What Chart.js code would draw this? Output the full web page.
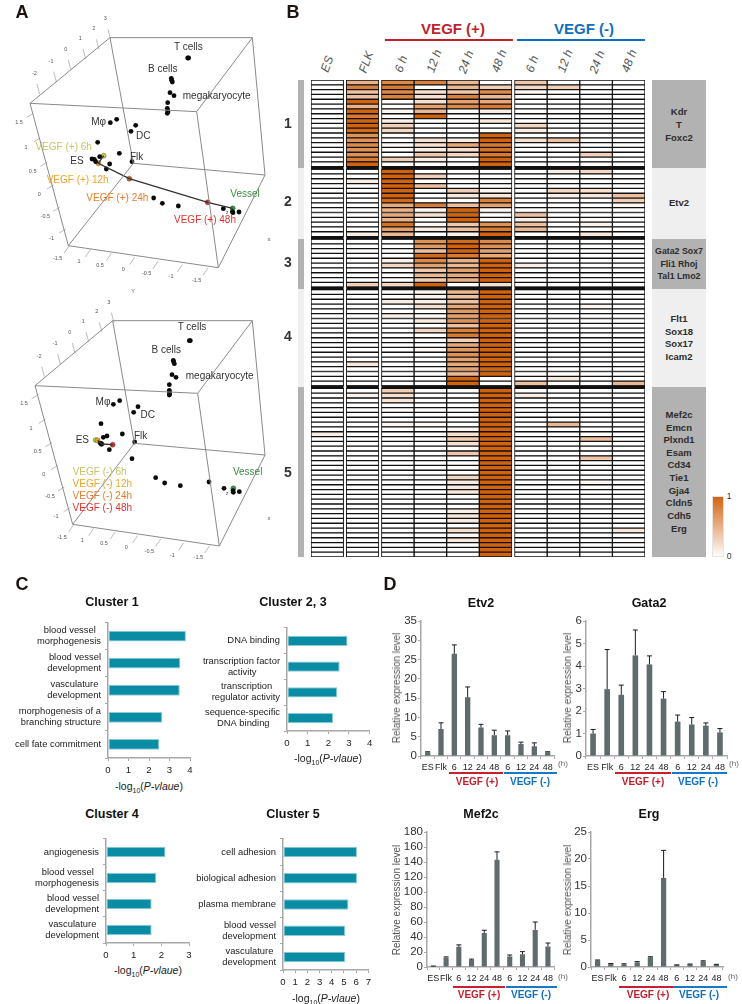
<!DOCTYPE html>
<html><head><meta charset="utf-8">
<script src="https://cdn.jsdelivr.net/npm/chart.js@4"></script>
<style>
html,body{margin:0;padding:0;background:#fff;width:742px;height:1004px;overflow:hidden;font-family:"Liberation Sans",Arial,sans-serif}
#page{position:relative;width:742px;height:1004px;overflow:hidden}
canvas{position:absolute;display:block}
.t{position:absolute;white-space:nowrap;line-height:1;transform-origin:center}
.r{position:absolute}
</style></head><body><div id="page"></div>
<script>
/* ---------- Panel A: projected 3D coordinates of the PCA cube ---------- */
const cubeEdgesPlus=[[90,310,330,113],[330,113,757,113],[757,113,590,335],[90,310,590,335],[90,310,205,737],[205,737,655,803],[590,335,655,803],[655,803,795,525],[757,113,795,525],[330,113,400,490],[400,490,795,525],[400,490,205,737]];
const cubeEdgesMinus=[[105,317,338,122],[338,122,757,122],[757,122,593,340],[105,317,593,340],[105,317,218,733],[218,733,658,798],[593,340,658,798],[658,798,795,525],[757,122,795,525],[338,122,403,490],[403,490,795,525],[403,490,218,733]];
const blackPlusX=[563,566,514,515,517,510,522,503,502,503,502,504,331,350,407,393,293,276,283,287,299,358,329,319,396,461,487,535,670,697,699,717];
const blackPlusY=[174,174,235,241,246,278,287,308,325,332,340,336,368,358,376,394,427,477,478,485,470,460,492,507,485,594,610,618,626,635,638,636];
const blackMinusX=[568,571,520,521,523,516,528,508,508,508,509,508,340,359,414,401,303,310,321,367,404,301,304,328,396,467,494,541,627,672,699,700,718];
const blackMinusY=[182,182,241,246,251,284,292,314,331,336,342,345,373,362,380,397,431,472,468,462,486,490,492,509,536,593,609,617,606,625,632,637,635];
const timePlusX=[311,295,388,623,698];
const timePlusY=[467,490,536,607,625];
const timeMinusX=[287,293,305,338,700];
const timeMinusY=[480,481,492,494,625];
const timeColors=['#c9c93c','#eea21f','#cf5f28','#cf2f2f','#2a9c3c'];
const zTicksPlus=[['3',316,58],['2',281,88],['1',241,117],['0',197,150],['-1',153,185],['-2',103,222]];
const xTicksPlus=[['1.5',57,369],['1',78,443],['0.5',98,516],['0',118,584],['-0.5',136,651],['-1',155,716]];
const yTicksPlus=[['-1.5',173,776],['1',237,787],['0.5',300,798],['0',370,810],['-0.5',440,822],['-1',513,832],['-1.5',590,842]];
const zTicksMinus=[['3',326,68],['2',290,97],['1',250,126],['0',209,159],['-1',165,192],['-2',117,230]];
const xTicksMinus=[['1.5',72,373],['1',93,447],['0.5',113,517],['0',131,585],['-0.5',150,650],['-1',168,712]];
const yTicksMinus=[['-1.5',186,773],['1',247,783],['0.5',312,793],['0',379,805],['-0.5',448,815],['-1',517,827],['-1.5',595,835]];

/* ---------- Panel B: heatmap columns (rows grouped by cluster 1..5) ---------- */
const clusterSizes=[18,14,10,20,35];
const heatES=[0,0,0,0,0,0,0,0,0,0,0,0,0,0,0,0,0,0,
 0,0,0,0,0,0,0,0,0,0,0,0,0,0,
 0,0,0,0,0,0,0,0,0,0,
 0,0,0,0,0,0,0,0,0,0,0,0,0,0,0,0,0,0,0,0,
 0,0,0,0,0,0,0,0,0,.1,0,0,0,0,0,0,0,0,0,0,0,0,0,0,0,0,0,0,0,0,0,0,0,0,0];
const heatFLK=[.5,.8,.4,.4,1,.5,1,.85,1,1,.95,.7,.7,.75,.7,.7,.85,1,
 0,0,.1,0,0,0,0,0,0,0,0,0,0,.1,
 0,0,0,0,0,0,0,0,0,.3,
 0,0,0,0,0,0,0,0,0,0,0,0,0,0,0,.15,0,0,0,0,
 0,.08,0,0,0,0,0,0,0,0,0,0,0,0,0,0,0,0,0,0,0,0,0,0,0,0,0,0,0,0,0,0,0,0,0];
const heatP6=[.75,.85,.75,.8,0,0,.05,0,.1,.3,.25,0,0,.05,0,0,.3,0,
 1,1,1,1,1,1,.95,.55,.5,.55,.5,.9,.6,.45,
 0,0,0,0,.08,.25,0,0,0,.25,
 0,0,.12,0,0,.1,0,0,0,0,0,0,0,0,0,0,0,0,0,0,
 .3,.2,.15,0,0,0,0,.05,0,0,0,0,0,0,0,0,0,0,0,0,0,0,0,0,0,0,0,0,0,0,0,0,0,0,0];
const heatP12=[.8,0,.2,.2,.2,.6,.45,1,0,0,0,0,.2,.2,.1,.35,.1,0,
 0,.3,0,.4,0,0,0,.85,.05,.2,0,.05,.1,0,
 .7,.65,.4,.95,.75,.6,.35,.45,.3,1,
 .07,.07,.1,.2,0,.05,.12,0,.25,0,0,0,.04,0,0,0,0,0,0,0,
 0,0,0,0,0,0,0,.03,0,0,0,0,0,0,0,0,0,0,0,0,0,0,0,0,0,0,0,0,0,0,0,0,0,0,0];
const heatP24=[.45,.45,.35,.8,.6,.75,0,0,0,0,0,0,.1,.55,.2,.25,0,0,
 0,0,0,0,.3,.15,0,.4,1,1,1,.35,.4,.1,
 .95,1,1,.85,.5,.45,.6,.55,.5,0,
 .45,.4,.4,.55,.65,.6,.7,.4,.8,.85,.3,.55,.65,.7,.6,.55,.6,.45,1,1,
 0,0,0,0,0,0,0,0,.05,.2,.3,.2,0,.35,0,0,0,0,.25,.12,.12,.15,0,0,0,.1,.15,.12,0,.2,.05,.15,0,0,0];
const heatP48=[0,.3,.75,.45,.55,.85,.1,0,.15,0,0,1,1,.85,.9,.85,1,1,
 0,0,0,0,.05,.15,.8,.6,.05,0,0,.7,.85,1,
 .75,.7,.6,.55,1,1,1,1,1,.2,
 1,1,1,1,1,1,1,1,1,1,1,1,1,1,1,1,1,1,0,0,
 1,1,1,1,1,1,1,1,1,1,1,1,1,1,1,1,1,1,1,1,1,1,1,1,1,1,1,1,1,1,1,1,1,1,1];
const heatM6=[.35,.25,.05,0,0,0,0,0,0,.25,.1,0,.2,0,0,0,0,0,
 0,0,0,0,0,0,0,0,0,.4,.1,.4,.45,0,
 0,0,0,0,0,.1,0,0,0,0,
 0,0,0,0,0,0,0,0,0,0,0,0,0,0,0,0,0,0,0,.4,
 0,.1,0,0,0,0,0,0,0,0,0,0,0,0,0,0,0,0,0,0,0,0,0,0,0,0,0,0,0,0,0,0,0,0,0];
const heatM12=[0,.3,0,0,0,0,0,0,0,0,0,0,.4,0,0,0,0,0,
 .1,0,0,0,.25,.1,0,0,0,0,0,0,0,0,
 0,0,0,0,0,0,0,0,0,0,
 0,0,0,0,0,0,0,0,0,0,0,0,0,0,0,0,0,0,.15,0,
 0,0,0,0,0,0,0,.45,0,0,0,0,0,0,0,0,0,0,0,0,0,0,0,0,0,0,0,0,0,0,0,0,0,0,0];
const heatM24=[0,0,0,0,0,0,0,0,0,0,0,0,0,0,0,.3,0,0,
 .25,0,0,0,.2,.15,0,0,0,0,0,.08,0,.15,
 0,0,0,0,0,0,0,0,0,0,
 0,0,0,.05,0,0,0,0,0,0,0,0,0,0,0,0,0,0,0,0,
 0,0,0,0,0,0,0,0,0,0,.4,0,0,0,.35,0,0,0,0,.05,0,0,0,0,0,0,0,0,0,0,0,0,0,0,0];
const heatM48=[0,0,0,0,0,0,0,0,0,0,0,0,0,0,0,0,0,0,
 0,0,0,0,0,.4,.3,.05,0,0,0,0,0,0,
 0,0,0,0,0,0,0,0,0,0,
 0,0,0,0,0,0,0,0,0,0,0,0,0,0,0,0,0,0,0,.45,
 0,0,0,0,0,0,0,0,0,0,0,0,0,0,0,0,0,0,0,0,0,0,0,0,0,0,0,0,0,.15,0,0,0,0,0];
const heatColumnGroups=[[heatES],[heatFLK],[heatP6,heatP12,heatP24,heatP48],[heatM6,heatM12,heatM24,heatM48]];
const heatColumnLabels=['ES','FLK','6 h','12 h','24 h','48 h','6 h','12 h','24 h','48 h'];

/* ---------- Panel C: GO enrichment ---------- */
const c1Terms=[['blood vessel','morphogenesis'],['blood vessel','development'],['vasculature','development'],['morphogenesis of a','branching structure'],'cell fate commitment'];
const c1Values=[3.8,3.53,3.5,2.65,2.5];
const c23Terms=['DNA binding',['transcription factor','activity'],['transcription','regulator activity'],['sequence-specific','DNA binding']];
const c23Values=[2.93,2.55,2.43,2.23];
const c4Terms=['angiogenesis',['blood vessel','morphogenesis'],['blood vessel','development'],['vasculature','development']];
const c4Values=[2.15,1.82,1.65,1.65];
const c5Terms=['cell adhesion','biological adhesion','plasma membrane',['blood vessel','development'],['vasculature','development']];
const c5Values=[6.07,6.07,5.37,5.1,5.1];

/* ---------- Panel D: expression ---------- */
const timeLabels=['ES','Flk','6','12','24','48','6','12','24','48'];
const etv2Values=[1,7,26.5,15.2,7.4,5.4,5.4,3.1,2.5,1];
const etv2Tops=[1.1,8.6,28.8,17.9,8.2,6.7,6.5,3.6,3.4,1.1];
const gata2Values=[1,2.97,2.72,4.47,4.07,2.55,1.53,1.4,1.35,1.05];
const gata2Tops=[1.18,4.73,3.15,5.6,4.45,2.86,1.82,1.71,1.47,1.22];
const mef2cValues=[1,12.5,27,9.5,45.5,143,14,17,49.5,27.5];
const mef2cTops=[1.3,13.5,29.5,10.5,49,153.5,16,20.5,60,32];
const ergValues=[1.2,.55,.5,.85,1.8,16.5,.35,.5,1.05,.45];
const ergTops=[1.3,.65,.6,1,1.9,21.6,.4,.55,1.15,.5];

/* ---------- helpers ---------- */
const page=document.getElementById('page');
Chart.defaults.font.family='"Liberation Sans",Arial,sans-serif';
Chart.defaults.animation=false;
Chart.defaults.responsive=false;
Chart.defaults.plugins.legend.display=false;
Chart.defaults.plugins.tooltip.enabled=false;
function T(html,cx,cy,o={}){
  const d=document.createElement('div');d.className='t';d.innerHTML=html;
  d.style.left=cx+'px';d.style.top=cy+'px';
  d.style.transform='translate(-50%,-50%)'+(o.rot?' rotate('+o.rot+'deg)':'');
  d.style.fontSize=(o.size||10)+'px';d.style.color=o.color||'#222';
  if(o.bold)d.style.fontWeight='bold';if(o.italic)d.style.fontStyle='italic';
  page.appendChild(d);return d;
}
function R(x,y,w,h,c){const d=document.createElement('div');d.className='r';
  d.style.cssText+=`left:${x}px;top:${y}px;width:${w}px;height:${h}px;background:${c}`;page.appendChild(d);return d;}
function C(x,y,w,h){const c=document.createElement('canvas');c.width=w;c.height=h;
  c.style.left=x+'px';c.style.top=y+'px';c.style.width=w+'px';c.style.height=h+'px';page.appendChild(c);return c;}

/* ---------- Panel A ---------- */
function pca(top,edges,bx,by,tx,ty,lines,tickSets){
  const ds=[];
  edges.forEach(e=>ds.push({data:[{x:e[0],y:e[1]},{x:e[2],y:e[3]}],showLine:true,borderColor:'#8a8a8a',borderWidth:1,pointRadius:0}));
  const off=[[8,30,16,60],[23,-17,43,-29],[19,-16,34,-38]];
  tickSets.forEach((set,k)=>set.forEach(t=>{
    const o=off[k];
    ds.push({data:[{x:t[1]+o[0],y:t[2]+o[1]},{x:t[1]+o[2],y:t[2]+o[3]}],showLine:true,borderColor:'#aaa',borderWidth:.8,pointRadius:0});
  }));
  ds.push({data:lines.map(i=>({x:tx[i],y:ty[i]})),showLine:true,borderColor:'#333',borderWidth:1.3,pointRadius:0});
  ds.push({data:bx.map((x,i)=>({x,y:by[i]})),pointRadius:2.4,pointBackgroundColor:'#0a0a0a',pointBorderWidth:0});
  ds.push({data:tx.map((x,i)=>({x,y:ty[i]})),pointRadius:2.5,pointBackgroundColor:timeColors,pointBorderColor:'#444',pointBorderWidth:.4});
  new Chart(C(0,top,290,280),{type:'scatter',data:{datasets:ds},options:{layout:{padding:0,autoPadding:false},
    scales:{x:{type:'linear',min:0,max:870,display:false},y:{type:'linear',min:0,max:840,reverse:true,display:false}}}});
  tickSets.forEach(set=>set.forEach(t=>T(t[0],t[1]/3,top+t[2]/3,{size:5.5,color:'#555'})));
}
pca(0,cubeEdgesPlus,blackPlusX,blackPlusY,timePlusX,timePlusY,[0,1,2,3,4],[zTicksPlus,xTicksPlus,yTicksPlus]);
pca(280,cubeEdgesMinus,blackMinusX,blackMinusY,timeMinusX,timeMinusY,[1,2,3],[zTicksMinus,xTicksMinus,yTicksMinus]);
const dark='#333';
[['T cells',565,140,dark],['B cells',488,208,dark],['megakaryocyte',650,287,dark],['Mφ',296,366,dark],['DC',430,407,dark],
 ['VEGF (+) 6h',191,442,'#c6c663'],['ES',231,483,dark],['Flk',410,471,dark],['VEGF (+) 12h',233,540,'#f0a428'],
 ['VEGF (+) 24h',352,594,'#ec7c2c'],['Vessel',735,581,'#3d8a45'],['VEGF (+) 48h',615,660,'#e2322e']]
 .forEach(l=>T(l[0],l[1]/3,l[2]/3,{size:10,color:l[3]}));
[['T cells',576,142,dark],['B cells',499,210,dark],['megakaryocyte',659,288,dark],['Mφ',309,365,dark],['DC',443,406,dark],
 ['ES',247,480,dark],['Flk',422,468,dark],['VEGF (-) 6h',299,576,'#c6c663'],['VEGF (-) 12h',307,612,'#f0a428'],
 ['VEGF (-) 24h',307,648,'#ec7c2c'],['VEGF (-) 48h',307,685,'#e2322e'],['Vessel',743,577,'#3d8a45']]
 .forEach(l=>T(l[0],l[1]/3,280+l[2]/3,{size:10,color:l[3]}));
T('x',269,239,{size:6,color:'#555'});T('x',269,518,{size:6,color:'#555'});
T('Y',133,292,{size:5.5,color:'#555'});T('z',227,213,{size:5.5,color:'#555'});T('z',227,494,{size:5.5,color:'#555'});

/* ---------- Panel B ---------- */
const heatLeft=311,heatTop=80,heatW=334,heatH=477,colGap=.08;
const sepRows=.5;
const rowY=[];const bounds=[];{let y=0;clusterSizes.forEach((n,c)=>{for(let i=0;i<n;i++)rowY.push(y++);bounds.push(y-.5);y+=sepRows;});}
const totalUnits=rowY[rowY.length-1]+1;
const heatColor=v=>`rgb(${Math.round(255-46*v)},${Math.round(255-157*v)},${Math.round(255-241*v)})`;
const heatDs=[];const groupRanges=[];{let u=0;
heatColumnGroups.forEach((g,gi)=>{
  const s=u;
  g.forEach(col=>{heatDs.push({data:col.map((v,i)=>({x:1,y:rowY[i]})),backgroundColor:col.map(heatColor),borderColor:'#111',borderWidth:1,borderSkipped:false,barPercentage:1,categoryPercentage:1,stack:'a'});u+=1;});
  groupRanges.push([s,u]);
  if(gi<3){heatDs.push({data:rowY.map(y=>({x:colGap,y})),backgroundColor:'rgba(0,0,0,0)',borderWidth:0,barPercentage:1,categoryPercentage:1,stack:'a'});u+=colGap;}
});}
const separators={id:'separators',afterDatasetsDraw(ch){const {ctx,scales:{x,y}}=ch;ctx.save();ctx.fillStyle='#111';
  bounds.slice(0,4).forEach(b=>{const y0=y.getPixelForValue(b),y1=y.getPixelForValue(b+sepRows);
    groupRanges.forEach(r=>{const a=x.getPixelForValue(r[0]),e=x.getPixelForValue(r[1]);ctx.fillRect(a,y0-.5,e-a,y1-y0+1);});});
  ctx.restore();}};
new Chart(C(heatLeft,heatTop,heatW,heatH),{type:'bar',data:{datasets:heatDs},plugins:[separators],options:{indexAxis:'y',layout:{padding:0,autoPadding:false},
  scales:{x:{type:'linear',stacked:true,min:0,max:10+3*colGap,display:false,offset:false},y:{type:'linear',offset:false,grid:{offset:false},stacked:true,reverse:true,min:-.5,max:totalUnits-.5,display:false}}}});
// strips and gene panels
const bandY=[80,168,239,289,387,557];const bandC=['#b2b2b2','#efefef','#b2b2b2','#efefef','#b2b2b2'];
bandC.forEach((c,i)=>{R(298,bandY[i],5.5,bandY[i+1]-bandY[i],c);R(652,bandY[i],54,bandY[i+1]-bandY[i],c);});
[['1',123],['2',201],['3',262],['4',336],['5',472]].forEach(n=>T(n[0],288,n[1],{size:14,bold:true,color:'#333'}));
[['Kdr',112],['T',125],['Foxc2',137.5],['Etv2',203],['Flt1',319],['Sox18',332],['Sox17',344],['Icam2',357],
 ['Mef2c',415],['Emcn',428],['Plxnd1',440],['Esam',453],['Cd34',465],['Tie1',478],['Gja4',490.6],['Cldn5',503],['Cdh5',515.6],['Erg',528.5]]
 .forEach(g=>T(g[0],679,g[1],{size:9.5,bold:true,color:'#2c2c2c'}));
[['Gata2 Sox7',251],['Fli1 Rhoj',264],['Tal1 Lmo2',276]].forEach(g=>T(g[0],679,g[1],{size:8.8,bold:true,color:'#2c2c2c'}));
T('VEGF (+)',453,28,{size:15,bold:true,color:'#c01f2c'});
T('VEGF (-)',584,28,{size:15,bold:true,color:'#0f70bd'});
R(385,38.5,128,2.6,'#c01f2c');R(517,38.5,128,2.6,'#0f70bd');
const colLabelX=[327,366,401,434,466,499,532,565,597,629],colLabelY=[64,62,64,61,62,61,64,61,62,61];
heatColumnLabels.forEach((l,i)=>T(l,colLabelX[i],colLabelY[i],{size:12,italic:true,color:'#555',rot:-70}));
// colour bar
const cb=R(712,496,11.5,61,'linear-gradient(to bottom,#d1620e,#fff)');cb.style.outline='1px solid #e4e4e4';cb.style.outlineOffset='-1px';
T('1',729,496,{size:8.5,color:'#333'});T('0',729,556,{size:8.5,color:'#333'});

/* ---------- axis-bar helper for C and D ---------- */
const meas=document.createElement('canvas').getContext('2d');
function padLines(lab,font){ if(!Array.isArray(lab))return lab; meas.font=font;
  const w=lab.map(s=>meas.measureText(s).width),mx=Math.max(...w),sp=meas.measureText('\u00a0').width;
  return lab.map((s,i)=>s+'\u00a0'.repeat(Math.round((mx-w[i])/2/sp)));}
function axisBar({plot,L,B,labels,values,max,step,indexAxis,cat,val,barPct,color,plugins,border}){
  const [l,t,r,b]=plot,padT=8,padR=8,w=Math.round(L+(r-l)+padR),h=Math.round(padT+(b-t)+B);
  const canvas=C(l-L,t-padT,w,h);
  const axisC='#a8a8a8';
  const catScale={type:'category',offset:true,border:{color:axisC,width:1.5},grid:{drawOnChartArea:false,drawTicks:true,tickLength:3,color:axisC,offset:true},
    ticks:Object.assign({autoSkip:false,maxRotation:0,minRotation:0,color:'#222'},cat)};
  const valScale={type:'linear',min:0,max,border:{color:axisC,width:1.5},grid:{drawOnChartArea:false,drawTicks:true,tickLength:3,color:axisC},
    ticks:Object.assign({stepSize:step,color:'#222',autoSkip:false,maxRotation:0},val)};
  const horiz=indexAxis==='y';
  const scales=horiz?{y:Object.assign(catScale,{afterFit:s=>{s.width=L}}),x:Object.assign(valScale,{afterFit:s=>{s.height=B}})}
                    :{x:Object.assign(catScale,{afterFit:s=>{s.height=B}}),y:Object.assign(valScale,{afterFit:s=>{s.width=L}})};
  new Chart(canvas,{type:'bar',data:{labels,datasets:[{data:values,backgroundColor:color,borderColor:border||color,borderWidth:border?1:0,borderSkipped:false,barPercentage:barPct,categoryPercentage:1}]},
    plugins:plugins||[],options:{indexAxis,layout:{autoPadding:false,padding:{left:0,top:padT,right:w-L-(r-l),bottom:0}},scales}});
}
/* ---------- Panel C ---------- */
const termFont='9.4px "Liberation Sans"';
function goChart(plot,terms,values,max,xlab){
  axisBar({plot,L:112,B:20,labels:terms.map(x=>padLines(x,termFont)),values,max,step:1,indexAxis:'y',barPct:.4,color:'#0a8ca4',border:'#8ccad5',
    cat:{font:{size:9.4,lineHeight:1.17},padding:4,color:'#222'},val:{font:{size:9.6},padding:4,color:'#222'}});
  T('-log<sub style="font-size:7px;line-height:0">10</sub>(<i>P-vlaue</i>)',xlab[0],xlab[1],{size:10.5,color:'#222'});
}
goChart([108,620.7,190,758],c1Terms,c1Values,4,[149,786]);
goChart([286.7,620.7,369.3,731],c23Terms,c23Values,4,[328,758]);
goChart([106,831.7,189,942.7],c4Terms,c4Values,3,[148,970]);
goChart([282.7,831.7,368,970],c5Terms,c5Values,7,[326,998]);
[['Cluster 1',112,602],['Cluster 2, 3',293,602],['Cluster 4',112,814],['Cluster 5',293,814]]
 .forEach(t=>T(t[0],t[1],t[2],{size:12.5,bold:true,color:'#111'}));

/* ---------- Panel D ---------- */
function errBars(tops){return{id:'errBars',afterDatasetsDraw(ch){const {ctx,scales:{y}}=ch,meta=ch.getDatasetMeta(0),vals=ch.data.datasets[0].data;
  ctx.save();ctx.strokeStyle='#1c1c1c';ctx.lineWidth=1;ctx.beginPath();
  meta.data.forEach((el,i)=>{const y0=y.getPixelForValue(vals[i]),y1=y.getPixelForValue(tops[i]);
    ctx.moveTo(el.x,y0);ctx.lineTo(el.x,y1);ctx.moveTo(el.x-2.5,y1);ctx.lineTo(el.x+2.5,y1);});
  ctx.stroke();ctx.restore();}};}
function expr(name,plot,values,tops,max,step,o){
  axisBar({plot,L:30,B:22,labels:timeLabels,values,max,step,indexAxis:'x',barPct:.4,color:'#5f6b6d',plugins:[errBars(tops)],
    cat:{font:{size:9},padding:3,color:'#222'},val:{font:{size:11.5},padding:1,color:'#333'}});
  T(name,o.titleX,o.titleY,{size:12.5,bold:true,color:'#111'});
  T('Relative expression level',o.yX,(plot[1]+plot[3])/2,{size:10,color:'#555',rot:-90});
  R(o.red[0],o.lineY,o.red[1]-o.red[0],1.5,'#c8202e');R(o.blue[0],o.lineY,o.blue[1]-o.blue[0],1.5,'#1a78c8');
  T('VEGF (+)',o.plusX,o.vegfY,{size:10,bold:true,color:'#c01f2c'});
  T('VEGF (-)',o.minusX,o.vegfY,{size:10,bold:true,color:'#0f70bd'});
  T('(h)',o.hX,o.hY,{size:8,color:'#666'});
}
expr('Etv2',[420.7,620.7,554,755.7],etv2Values,etv2Tops,35,5,{titleX:481,titleY:603,yX:397,red:[449,503],blue:[504,557],lineY:772,plusX:477,minusX:530,vegfY:782,hX:563,hY:764});
expr('Gata2',[585.7,620.7,726.7,755.7],gata2Values,gata2Tops,6,1,{titleX:649,titleY:603,yX:568,red:[615,671],blue:[672,727],lineY:772,plusX:643,minusX:698,vegfY:782,hX:734,hY:764});
expr('Mef2c',[426.7,832.3,554,967.3],mef2cValues,mef2cTops,180,20,{titleX:481,titleY:814,yX:397,red:[453,505],blue:[506,557],lineY:986,plusX:479,minusX:531,vegfY:995,hX:563,hY:977});
expr('Erg',[590.7,832.3,722.7,967.3],ergValues,ergTops,25,5,{titleX:649,titleY:814,yX:568,red:[619,673],blue:[673,727],lineY:986,plusX:648,minusX:699,vegfY:995,hX:733,hY:977});

/* ---------- panel letters ---------- */
[['A',22,12],['B',293,12],['C',22,584],['D',390,584]].forEach(l=>T(l[0],l[1],l[2],{size:18,bold:true,color:'#1c1410'}));
</script></body></html>
